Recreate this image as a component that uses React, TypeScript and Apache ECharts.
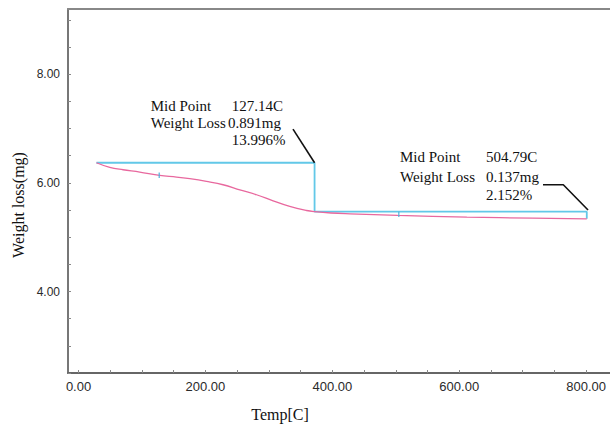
import React, { useEffect, useRef } from "react";
import * as echarts from "echarts";

// TGA curve (weight vs temperature)
const tempC = [28.2, 49.2, 70.2, 96.5, 128, 154.4, 175.3, 201.6, 227.8, 254.2, 280.5, 306.7, 332.9, 359.3, 372, 398, 428, 503, 612, 716, 801];
const weightMg = [6.37, 6.284, 6.241, 6.199, 6.136, 6.107, 6.076, 6.026, 5.965, 5.872, 5.781, 5.67, 5.565, 5.491, 5.47, 5.445, 5.43, 5.4, 5.37, 5.35, 5.338];

// step-analysis construction lines
const stepTemp = [28.2, 372, 372, 801, 801];
const stepWeight = [6.37, 6.37, 5.47, 5.47, 5.338];

// mid point markers
const midTemp = [127.14, 504.79];
const midTop = [6.19, 5.47];
const midBottom = [6.09, 5.37];

// leader lines
const leader1Temp = [338, 372];
const leader1Weight = [6.99, 6.37];
const leader2Temp = [732, 764, 803];
const leader2Weight = [5.965, 5.965, 5.5];

// axis ticks / labels
const xTickValues = [0, 50, 100, 150, 200, 250, 300, 350, 400, 450, 500, 550, 600, 650, 700, 750, 800];
const xLabelValues = [0, 200, 400, 600, 800];

// annotation text
const note1 = ["Mid Point", "127.14C", "Weight Loss", "0.891mg", "13.996%"];
const note2 = ["Mid Point", "504.79C", "Weight Loss", "0.137mg", "2.152%"];

const SERIF = '"Liberation Serif", "Times New Roman", serif';

function txt(text: string, x: number, y: number, size = 15, extra: any = {}) {
  return {
    type: "text",
    x,
    y,
    ...extra,
    style: {
      text,
      font: `${size}px ${SERIF}`,
      fontFamily: SERIF,
      fontSize: size,
      fill: "#111111",
      textAlign: extra.center ? "center" : "left",
      align: extra.center ? "center" : "left",
      textVerticalAlign: "middle",
      verticalAlign: "middle",
    },
  };
}

export default function App() {
  const ref = useRef<HTMLDivElement>(null);

  useEffect(() => {
    document.body.style.margin = "0";
    const chart = echarts.init(ref.current!, null, { renderer: "svg" });

    const curve = tempC.map((t, i) => [t, weightMg[i]]);
    const step = stepTemp.map((t, i) => [t, stepWeight[i]]);
    const mids: any[] = [];
    midTemp.forEach((t, i) => {
      if (i > 0) mids.push(["-", "-"]);
      mids.push([t, midTop[i]]);
      mids.push([t, midBottom[i]]);
    });
    const lead1 = leader1Temp.map((t, i) => [t, leader1Weight[i]]);
    const lead2 = leader2Temp.map((t, i) => [t, leader2Weight[i]]);

    chart.setOption({
      animation: false,
      backgroundColor: "#ffffff",
      grid: { left: 68, right: 0, top: 9, bottom: 53 },
      xAxis: [
        {
          type: "value",
          min: -16.6,
          max: 837.6,
          axisLine: { show: true, lineStyle: { color: "#666", width: 2 } },
          axisTick: {
            show: true,
            inside: true,
            length: 3,
            customValues: xTickValues,
            lineStyle: { color: "#888", width: 1 },
          },
          axisLabel: {
            customValues: xLabelValues,
            formatter: (v: number) => v.toFixed(2),
            color: "#2a2a2a",
            fontFamily: '"Liberation Sans", Arial, sans-serif',
            fontSize: 13,
            margin: 7,
          },
          splitLine: { show: false },
        },
        {
          type: "value",
          position: "top",
          min: -16.6,
          max: 837.6,
          axisLine: { show: true, onZero: false, lineStyle: { color: "#888", width: 2 } },
          axisTick: { show: false },
          axisLabel: { show: false },
          splitLine: { show: false },
        },
      ],
      yAxis: {
        type: "value",
        min: 2.5,
        max: 9.2,
        interval: 0.5,
        axisLine: { show: true, onZero: false, lineStyle: { color: "#777", width: 2 } },
        axisTick: { show: true, inside: true, length: 3, lineStyle: { color: "#888", width: 1 } },
        axisLabel: {
          formatter: (v: number) => (Math.abs(v % 2) < 1e-9 ? v.toFixed(2) : ""),
          color: "#2a2a2a",
          fontFamily: '"Liberation Sans", Arial, sans-serif',
          fontSize: 12,
          margin: 8,
        },
        splitLine: { show: false },
      },
      series: [
        {
          name: "TGA",
          type: "line",
          data: curve,
          smooth: 0.4,
          showSymbol: false,
          lineStyle: { color: "#e8689e", width: 1.3 },
          z: 3,
        },
        {
          name: "Step",
          type: "line",
          data: step,
          showSymbol: false,
          lineStyle: { color: "#62c8e8", width: 1.8 },
          z: 2,
        },
        {
          name: "Mid",
          type: "line",
          data: mids,
          connectNulls: false,
          showSymbol: false,
          lineStyle: { color: "#4fb0dc", width: 1.2 },
          z: 4,
        },
        {
          name: "Leader1",
          type: "line",
          data: lead1,
          showSymbol: false,
          lineStyle: { color: "#111", width: 1.6 },
          z: 5,
        },
        {
          name: "Leader2",
          type: "line",
          data: lead2,
          showSymbol: false,
          lineStyle: { color: "#111", width: 1.6 },
          z: 5,
        },
      ],
      graphic: [
        txt(note1[0], 150.7, 106),
        txt(note1[1], 231.7, 106),
        txt(note1[2], 150.7, 123),
        txt(note1[3], 228, 123),
        txt(note1[4], 231.7, 140),
        txt(note2[0], 400, 157),
        txt(note2[1], 486, 157),
        txt(note2[2], 400, 177),
        txt(note2[3], 486, 177),
        txt(note2[4], 486, 195),
        txt("Temp[C]", 280, 414, 16, { center: true }),
        txt("Weight loss(mg)", 18, 205, 16, { center: true, rotation: Math.PI / 2 }),
      ].map((g: any) => {
        const { center, ...rest } = g;
        return rest;
      }),
    });

    return () => chart.dispose();
  }, []);

  return <div ref={ref} style={{ width: 610, height: 426 }} />;
}
